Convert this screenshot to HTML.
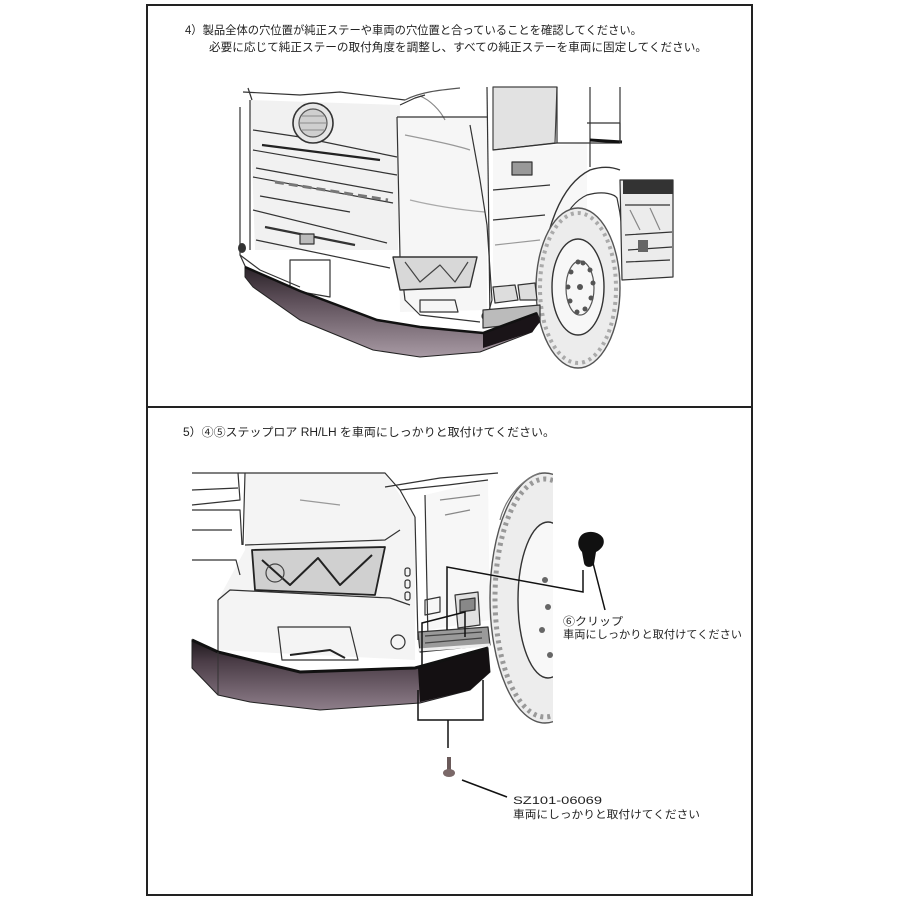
<!DOCTYPE html>
<html><head><meta charset="utf-8"><style>
html,body{margin:0;padding:0;background:#fff;}
svg{display:block;}
text{font-family:"Liberation Sans","Noto Sans CJK JP",sans-serif;fill:#222;}
</style></head><body>
<svg width="900" height="900" viewBox="0 0 900 900" xmlns="http://www.w3.org/2000/svg">
<defs>
<linearGradient id="lip1" x1="0" y1="0" x2="0" y2="1">
<stop offset="0" stop-color="#2a2228"/><stop offset="0.35" stop-color="#5a4c56"/><stop offset="1" stop-color="#a89aa4"/>
</linearGradient>
<linearGradient id="lip2" x1="0" y1="0" x2="0" y2="1">
<stop offset="0" stop-color="#1e181c"/><stop offset="0.3" stop-color="#4a3c46"/><stop offset="1" stop-color="#8e7e8a"/>
</linearGradient>
<clipPath id="cb"><rect x="150" y="460" width="403" height="280"/></clipPath>
</defs>

<!-- frame -->
<rect x="147" y="5" width="605" height="890" fill="none" stroke="#222" stroke-width="2"/>
<line x1="147" y1="407" x2="752" y2="407" stroke="#222" stroke-width="2"/>

<!-- header texts -->
<text x="185" y="34" font-size="11.5" textLength="457" lengthAdjust="spacingAndGlyphs">4）製品全体の穴位置が純正ステーや車両の穴位置と合っていることを確認してください。</text>
<text x="209" y="51" font-size="11.5" textLength="498" lengthAdjust="spacingAndGlyphs">必要に応じて純正ステーの取付角度を調整し、すべての純正ステーを車両に固定してください。</text>
<text x="183" y="436" font-size="11.5" textLength="372" lengthAdjust="spacingAndGlyphs">5）④⑤ステップロア RH/LH を車両にしっかりと取付けてください。</text>

<!-- ================= TOP TRUCK ================= -->
<g fill="none" stroke="#333" stroke-width="1.2" stroke-linejoin="round">
<!-- light shading -->
<path d="M250 100 L400 105 L398 250 L255 250 Z" fill="#f1f1f1" stroke="none"/>
<path d="M397 117 L487 117 L487 310 L400 312 Z" fill="#f6f6f6" stroke="none"/>
<path d="M493 87 L557 87 L555 143 L493 150 Z" fill="#e2e2e2" stroke="#444"/>
<path d="M493 150 L587 143 L587 280 L493 300 Z" fill="#f7f7f7" stroke="none"/>
<!-- cab top and grille -->
<path d="M243 92 L300 95 L340 92 L405 100"/>
<path d="M248 88 L252 100"/>
<path d="M405 100 C420 92 440 90 460 88" stroke="#555"/>
<path d="M420 96 C430 100 440 110 445 120" stroke="#888"/>
<path d="M240 107 L240 255 L246 268"/>
<path d="M250 100 L250 250"/>
<path d="M253 130 L300 137 L397 157"/>
<path d="M262 145 L380 160" stroke="#222" stroke-width="2.2"/>
<path d="M253 150 L397 175"/>
<path d="M253 177 L393 203"/>
<path d="M256 168 L393 193"/>
<path d="M275 182 L388 200" stroke="#777" stroke-width="3" stroke-dasharray="9 5"/>
<path d="M260 196 L350 212"/>
<path d="M253 210 L387 243"/>
<path d="M265 227 L355 245" stroke-width="2.2"/>
<path d="M256 240 L390 268"/>
<path d="M290 260 L330 260 L330 297 L290 290 Z"/>
<circle cx="313" cy="123" r="20" fill="#e6e6e6" stroke="#333" stroke-width="1.6"/>
<circle cx="313" cy="123" r="14" fill="#cfcfcf" stroke="#555"/>
<path d="M302 116 L324 116 M300 123 L326 123 M302 130 L324 130" stroke="#999"/>
<rect x="300" y="234" width="14" height="10" fill="#bbb"/>
<ellipse cx="242" cy="248" rx="4" ry="5" fill="#333" stroke="none"/>
<!-- corner panel -->
<path d="M400 105 L415 98 L425 95"/>
<path d="M397 117 L400 257 L405 300 L420 315 L480 322"/>
<path d="M397 117 L487 117"/>
<path d="M405 135 C430 140 455 145 470 150" stroke="#999"/>
<path d="M410 200 C430 205 460 210 485 212" stroke="#aaa"/>
<path d="M470 125 L480 180 L487 225 L492 300 L487 318"/>
<path d="M393 257 L477 257 L470 287 L400 290 Z" fill="#d8d8d8" stroke="#333" stroke-width="1.4"/>
<path d="M405 262 L420 282 L440 265 L455 282 L468 262" stroke="#444"/>
<path d="M420 300 L455 300 L458 312 L420 312 Z"/>
<circle cx="486" cy="316" r="4"/>
<path d="M240 255 L260 270 L300 287"/>
<!-- side of cab -->
<path d="M487 87 L490 320"/>
<path d="M557 87 L557 143"/>
<path d="M590 87 L590 167"/>
<path d="M493 150 L557 143 L620 143"/>
<path d="M587 123 L620 123 L620 143"/>
<path d="M590 140 L622 142" stroke="#111" stroke-width="3"/>
<path d="M620 87 L620 143"/>
<rect x="512" y="162" width="20" height="13" fill="#999" stroke="#333"/>
<path d="M493 190 L550 185"/>
<path d="M493 220 L545 215"/>
<path d="M495 245 L540 240" stroke="#999"/>
<!-- fender -->
<path d="M540 282 C545 230 560 185 590 170 C605 165 615 168 620 170" stroke-width="1.4"/>
<path d="M545 290 C550 240 565 205 587 195 C605 190 615 195 617 198 C622 220 624 245 623 268" stroke-width="1.2"/>
<!-- chassis -->
<path d="M620 180 L673 180 L673 277 L622 280 Z" fill="#ececec"/>
<path d="M623 180 L673 180 L673 194 L623 194 Z" fill="#333" stroke="none"/>
<path d="M625 205 L670 205 M625 235 L672 232 M628 250 L672 247 M626 262 L670 260"/>
<path d="M630 210 L640 230 M650 208 L660 230" stroke="#888"/>
<rect x="638" y="240" width="10" height="12" fill="#666" stroke="none"/>
<!-- tire -->
<ellipse cx="578" cy="288" rx="42" ry="80" fill="#ececec" stroke="#555" stroke-width="1.4"/>
<ellipse cx="578" cy="288" rx="38" ry="75" fill="none" stroke="#aaa" stroke-width="4" stroke-dasharray="3 4"/>
<ellipse cx="578" cy="287" rx="26" ry="48" fill="#f7f7f7" stroke="#333" stroke-width="1.4"/>
<ellipse cx="580" cy="288" rx="14" ry="27" fill="none" stroke="#555"/>
<g fill="#555" stroke="none">
<circle cx="583" cy="263" r="2.5"/><circle cx="590" cy="270" r="2.5"/><circle cx="593" cy="283" r="2.5"/>
<circle cx="591" cy="298" r="2.5"/><circle cx="585" cy="309" r="2.5"/><circle cx="577" cy="312" r="2.5"/>
<circle cx="570" cy="301" r="2.5"/><circle cx="568" cy="287" r="2.5"/><circle cx="571" cy="272" r="2.5"/>
<circle cx="578" cy="262" r="2.5"/><circle cx="580" cy="287" r="3"/>
</g>
<!-- steps -->
<path d="M493 287 L515 285 L518 300 L495 303 Z" fill="#ddd"/>
<path d="M518 285 L535 283 L537 300 L520 300 Z" fill="#ddd"/>
<path d="M483 310 L540 305 L540 322 L483 328 Z" fill="#bbb" stroke="#333"/>
</g>
<!-- top lip spoiler -->
<path d="M245 267 L300 291 L377 320 L420 327 L483 333 L537 313 L540 320 L532 332 L480 352 L420 357 L373 350 L300 320 L253 287 L245 277 Z" fill="url(#lip1)" stroke="#222" stroke-width="1"/>
<path d="M483 333 L537 313 L540 322 L532 332 L483 348 Z" fill="#1a1418"/>
<path d="M245 267 L300 291 L377 320 L420 327 L483 333 L537 313" fill="none" stroke="#111" stroke-width="2.5"/>

<!-- ================= BOTTOM TRUCK ================= -->
<g clip-path="url(#cb)">
<g fill="none" stroke="#333" stroke-width="1.2" stroke-linejoin="round">
<!-- shading -->
<path d="M245 473 L385 473 L415 517 L415 660 L218 650 L218 600 L245 550 Z" fill="#f4f4f4" stroke="none"/>
<path d="M425 495 L488 480 L490 620 L428 630 Z" fill="#f7f7f7" stroke="none"/>
<!-- left grille remnants -->
<path d="M192 473 L238 473 L240 500 L192 505"/>
<path d="M192 490 L238 488"/>
<path d="M192 510 L240 510 L242 545"/>
<path d="M192 530 L232 530"/>
<path d="M192 560 L236 560 L240 575"/>
<path d="M238 473 L245 473 L243 545"/>
<!-- corner body -->
<path d="M245 473 L385 473 L400 490 L415 517"/>
<path d="M385 487 L440 478 L498 473"/>
<path d="M400 490 L448 485 L488 480"/>
<path d="M440 500 L480 495 M445 515 L470 510" stroke="#888"/>
<path d="M415 517 L418 640"/>
<path d="M425 495 L428 640"/>
<path d="M245 545 L385 540 L400 530"/>
<path d="M300 500 L340 505" stroke="#999"/>
<path d="M218 600 L230 590 L390 598 L410 605"/>
<path d="M218 600 L218 652"/>
<path d="M252 550 L385 547 L375 595 L255 590 Z" fill="#d0d0d0" stroke="#222" stroke-width="1.8"/>
<path d="M262 560 L290 585 L318 558 L340 585 L372 555" stroke="#222" stroke-width="2"/>
<circle cx="275" cy="573" r="9" stroke="#444"/>
<path d="M278 627 L350 627 L358 660 L282 660 Z"/>
<path d="M290 655 L330 650 L345 658" stroke="#222" stroke-width="2"/>
<circle cx="398" cy="642" r="7"/>
<rect x="405" y="568" width="5" height="8" rx="2"/>
<rect x="405" y="580" width="5" height="8" rx="2"/>
<rect x="405" y="592" width="5" height="8" rx="2"/>
<!-- step -->
<path d="M425 600 L440 597 L440 612 L425 615 Z"/>
<path d="M455 595 L478 592 L480 625 L458 628 Z" fill="#e0e0e0"/>
<path d="M460 600 L475 598 L475 610 L460 612 Z" fill="#888"/>
<path d="M418 632 L488 627 L490 645 L420 652 Z" fill="#9a9a9a"/>
<path d="M425 636 L482 632 M425 643 L482 638" stroke="#444"/>
<path d="M418 650 L490 645" stroke="#eee" stroke-width="3"/>
<!-- tire -->
<ellipse cx="545" cy="598" rx="55" ry="125" fill="#ededed" stroke="#555" stroke-width="1.4"/>
<ellipse cx="545" cy="598" rx="50" ry="119" fill="none" stroke="#999" stroke-width="5" stroke-dasharray="3 4"/>
<ellipse cx="548" cy="600" rx="30" ry="78" fill="#f8f8f8" stroke="#333" stroke-width="1.4"/>
<g fill="#666" stroke="none">
<circle cx="545" cy="580" r="3"/><circle cx="548" cy="607" r="3"/><circle cx="542" cy="630" r="3"/><circle cx="550" cy="655" r="3"/>
</g>
<path d="M500 520 C505 500 520 480 540 473" stroke="#777"/>
</g>
<!-- bottom lip -->
<path d="M192 640 L218 652 L300 672 L415 668 L488 648 L490 672 L470 690 L420 703 L320 710 L250 702 L218 695 L192 668 Z" fill="url(#lip2)" stroke="#222" stroke-width="1"/>
<path d="M418 668 L488 648 L490 672 L470 690 L420 702 Z" fill="#141012"/>
<path d="M192 640 L218 652 L300 672 L415 668 L488 648" fill="none" stroke="#111" stroke-width="3"/>
<path d="M218 652 L218 695" stroke="#333" stroke-width="1" fill="none"/>
</g>

<!-- callout lines -->
<g fill="none" stroke="#111" stroke-width="1.5">
<path d="M447 630 L447 567 L583 592 L583 570"/>
<path d="M422 667 L422 623 L465 612 L465 637"/>
<path d="M418 690 L418 720 L483 720 L483 680"/>
<path d="M448 720 L448 748"/>
<path d="M593 563 L605 610"/>
<path d="M462 780 L507 797"/>
</g>
<!-- clip -->
<path d="M580 537 C584 530 598 530 603 538 C606 545 600 550 596 552 L594 564 C592 568 585 568 584 563 L582 552 C578 548 577 542 580 537 Z" fill="#111"/>
<!-- bolt -->
<rect x="447" y="757" width="4" height="14" fill="#6a5a5a"/>
<ellipse cx="449" cy="773" rx="6" ry="4" fill="#7a6868"/>

<text x="563" y="625" font-size="11" textLength="60" lengthAdjust="spacingAndGlyphs">⑥クリップ</text>
<text x="563" y="638" font-size="11" textLength="179" lengthAdjust="spacingAndGlyphs">車両にしっかりと取付けてください</text>
<text x="513" y="804" font-size="11" textLength="89" lengthAdjust="spacingAndGlyphs">SZ101-06069</text>
<text x="513" y="818" font-size="11" textLength="187" lengthAdjust="spacingAndGlyphs">車両にしっかりと取付けてください</text>
</svg>
</body></html>
